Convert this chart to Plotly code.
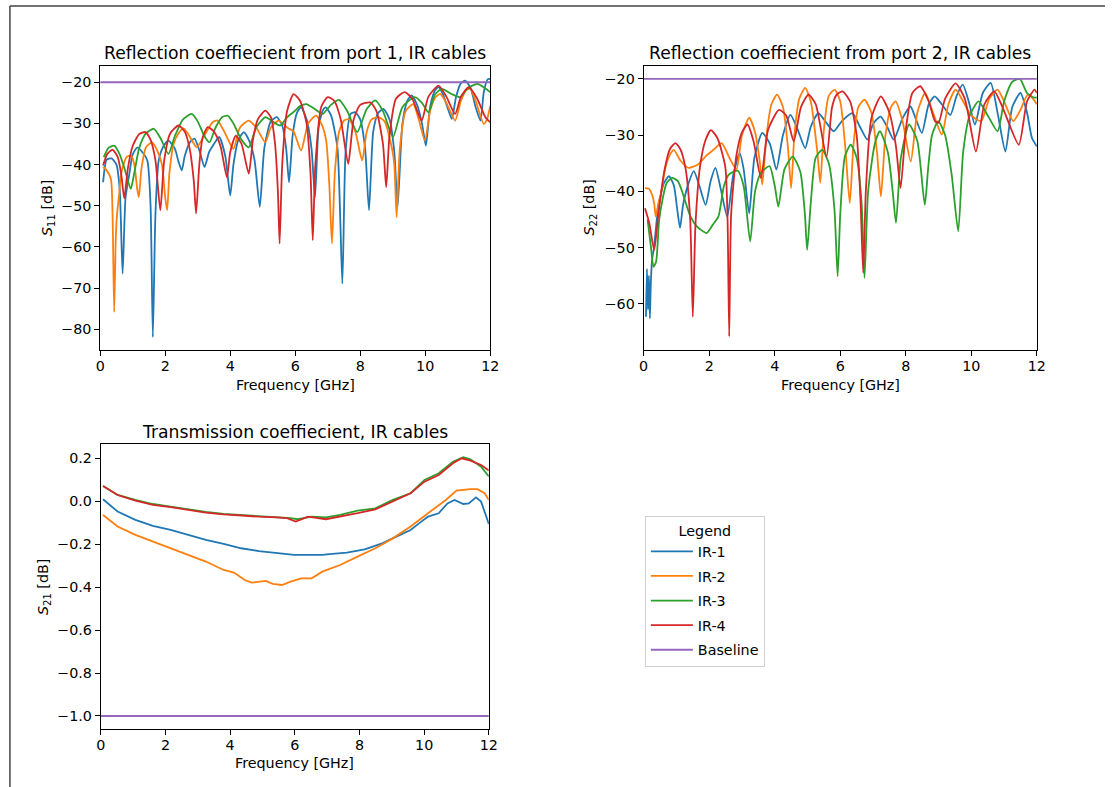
import plotly.graph_objects as go

# ---------------- S11 (reflection, port 1) ----------------
s11_ir1_f = [0.09, 0.2, 0.35, 0.5, 0.6, 0.69, 0.78, 0.89, 1.0, 1.14, 1.3, 1.45, 1.55, 1.62, 1.7, 1.8, 1.95, 2.1, 2.3, 2.4,
             2.51, 2.6, 2.76, 2.9, 3.05, 3.21, 3.35, 3.5, 3.66, 3.85, 4.0, 4.1, 4.25, 4.42, 4.6, 4.75, 4.91, 5.05, 5.25, 5.43,
             5.6, 5.72, 5.81, 5.92, 6.05, 6.18, 6.35, 6.5, 6.61, 6.72, 6.85, 6.94, 7.1, 7.3, 7.45, 7.55, 7.7, 7.85, 8.0, 8.15,
             8.27, 8.4, 8.55, 8.72, 8.9, 9.05, 9.15, 9.3, 9.45, 9.58, 9.75, 9.9, 10.02, 10.15, 10.3, 10.41, 10.55, 10.7, 10.82,
             10.95, 11.1, 11.23, 11.4, 11.55, 11.7, 11.8, 11.92, 12.0]
s11_ir1_db = [-44.3, -38.8, -38.5, -40, -46, -66.5, -48, -42.6, -37.5, -35.9, -37, -39, -50, -81.9, -52, -39, -35.5, -34.2, -36.2, -39,
              -41.4, -38, -34.6, -33.7, -36.5, -40.6, -37, -35, -33.3, -38, -47.5, -40, -34, -32.1, -34.5, -39, -50.3, -36, -29.5, -28.5,
              -30.5, -36, -44.3, -33, -27.5, -26.1, -29, -36, -47.9, -31, -26.8, -26.1, -28, -36, -68.9, -37, -27.7, -27.3, -29, -36,
              -51.1, -32, -27.5, -26.5, -29, -37, -50.3, -30, -24.5, -23.2, -25.5, -30, -35.4, -26, -22, -21.2, -23, -26.5, -28.9,
              -23.5, -20.2, -19.6, -21.5, -26, -29.3, -22.5, -19.3, -19.2]

s11_ir2_f = [0.09, 0.2, 0.33, 0.38, 0.43, 0.48, 0.52, 0.58, 0.65, 0.81, 0.95, 1.05, 1.14, 1.19, 1.27, 1.41, 1.6, 1.75, 1.9, 2.0,
             2.06, 2.13, 2.26, 2.4, 2.56, 2.7, 2.85, 2.97, 3.2, 3.46, 3.61, 3.85, 4.1, 4.3, 4.57, 4.8, 5.08, 5.25, 5.49, 5.75,
             5.95, 6.18, 6.4, 6.64, 6.8, 6.95, 7.05, 7.13, 7.22, 7.35, 7.5, 7.65, 7.85, 8.06, 8.2, 8.35, 8.56, 8.75, 8.97, 9.05,
             9.12, 9.22, 9.4, 9.63, 9.8, 9.99, 10.15, 10.3, 10.46, 10.65, 10.92, 11.1, 11.25, 11.39, 11.55, 11.8, 11.9, 12.0]
s11_ir2_db = [-40.6, -41.4, -43.5, -52, -75.8, -58, -51.9, -47.5, -42, -38.2, -37.8, -40, -46, -47.9, -41, -35.8, -34.6, -36.5, -40, -48,
              -51.1, -42, -35, -32.5, -31.2, -32.5, -34.5, -35.8, -33, -29.7, -29.3, -32.5, -36.2, -31, -29.3, -31, -34.6, -31, -29.3, -31,
              -32, -36.6, -30, -28.1, -30, -34, -45, -59.2, -42, -32, -29.3, -29, -32, -39, -32, -29, -28.5, -29.5, -35.8, -40,
              -52.8, -36, -27, -25.3, -29, -34.2, -27, -23.8, -22.8, -25, -29.3, -24.5, -22, -21.6, -24.5, -30.1, -29, -25.7]

s11_ir3_f = [0.11, 0.25, 0.43, 0.6, 0.75, 0.94, 1.05, 1.2, 1.4, 1.65, 1.85, 2.1, 2.3, 2.55, 2.81, 3.0, 3.2, 3.36, 3.55, 3.75,
             3.92, 4.1, 4.35, 4.57, 4.8, 5.08, 5.3, 5.54, 5.75, 5.94, 6.15, 6.34, 6.6, 6.84, 7.1, 7.35, 7.6, 7.91, 8.2, 8.46,
             8.7, 9.01, 9.3, 9.68, 9.9, 10.1, 10.3, 10.51, 10.8, 11.08, 11.3, 11.6, 11.85, 12.0]
s11_ir3_db = [-38.2, -36, -35.4, -37.5, -41, -45.9, -42, -36, -32.5, -31.3, -33.5, -37.4, -33, -29, -27.7, -29.5, -33, -34.6, -31, -28.5,
              -28.1, -30, -34, -35.8, -31, -28.5, -29.5, -30.5, -28.5, -27.3, -25.8, -25.3, -26.5, -27.7, -25.5, -24.3, -27, -32.1, -26.5, -24.4,
              -27, -33.3, -26, -23.6, -25, -27.3, -23, -21.6, -22.8, -23.6, -21.5, -20.4, -21.5, -22.4]

s11_ir4_f = [0.09, 0.22, 0.38, 0.54, 0.65, 0.74, 0.85, 1.0, 1.2, 1.39, 1.55, 1.7, 1.85, 1.97, 2.15, 2.41, 2.6, 2.75, 2.88, 2.95,
             3.05, 3.15, 3.31, 3.5, 3.7, 3.9, 4.0, 4.17, 4.35, 4.57, 4.7, 4.85, 5.08, 5.25, 5.38, 5.47, 5.52, 5.6, 5.75, 5.95,
             6.15, 6.35, 6.47, 6.54, 6.62, 6.8, 7.0, 7.2, 7.4, 7.63, 7.8, 8.0, 8.31, 8.5, 8.7, 8.8, 8.9, 9.1, 9.37, 9.6,
             9.89, 10.1, 10.41, 10.65, 10.92, 11.1, 11.34, 11.6, 11.85, 12.0]
s11_ir4_db = [-40.2, -37.4, -36.4, -38.2, -42.5, -48.2, -41, -35.5, -32.6, -32.1, -34, -39, -51.1, -39, -32.5, -30.5, -32, -36, -44, -51.9,
              -40, -33.5, -30.9, -32, -35.5, -43.1, -37, -33, -35, -42.2, -34, -29, -26.9, -28.5, -35, -47, -59.2, -40, -27, -22.9,
              -24.5, -30, -42, -58.4, -40, -26, -23.6, -24.5, -29, -39.8, -29, -25.5, -24.9, -27, -35, -45.5, -33, -24, -22.4, -24,
              -29.3, -23.5, -20.8, -23.5, -27.7, -23.5, -21.2, -24, -28.5, -29.7]

# ---------------- S22 (reflection, port 2) ----------------
s22_ir1_f = [0.07, 0.1, 0.13, 0.16, 0.19, 0.22, 0.26, 0.32, 0.4, 0.47, 0.62, 0.77, 0.92, 1.02, 1.11, 1.2, 1.34, 1.53, 1.7, 1.89,
             2.05, 2.19, 2.35, 2.55, 2.73, 2.93, 3.05, 3.22, 3.38, 3.62, 3.85, 4.05, 4.25, 4.48, 4.7, 4.93, 5.1, 5.33, 5.6, 5.8,
             6.05, 6.37, 6.6, 6.83, 7.0, 7.23, 7.43, 7.63, 7.9, 8.14, 8.3, 8.49, 8.7, 8.88, 9.1, 9.36, 9.55, 9.74, 9.92, 10.11,
             10.35, 10.59, 10.8, 11.04, 11.25, 11.5, 11.7, 11.85, 12.0]
s22_ir1_db = [-62.3, -53.8, -61, -55, -62.6, -56, -52, -49.8, -45, -42.1, -38.5, -37.3, -38.9, -43, -46.5, -42.5, -39.1, -36.4, -39, -42.4,
              -38, -35.8, -39.5, -44.5, -37.2, -33.2, -36, -43.9, -34, -29.6, -31.5, -36.1, -30, -26.4, -29, -32.3, -28.5, -26.1, -28, -29.3,
              -27.5, -26.1, -28.5, -30.8, -28, -26.7, -28.5, -30.8, -27, -24.9, -27, -29.6, -24.5, -23.1, -24.5, -26.4, -23, -21, -24, -28.1,
              -22.5, -20.7, -26, -32.9, -25, -22.5, -26, -30.5, -32]

s22_ir2_f = [0.04, 0.15, 0.25, 0.32, 0.37, 0.45, 0.52, 0.67, 0.8, 0.92, 1.12, 1.37, 1.66, 1.92, 2.15, 2.38, 2.63, 2.83, 3.0, 3.22,
             3.4, 3.55, 3.62, 3.75, 3.9, 4.07, 4.25, 4.4, 4.5, 4.6, 4.75, 4.93, 5.1, 5.3, 5.39, 5.5, 5.65, 5.83, 6.0, 6.15,
             6.29, 6.4, 6.55, 6.74, 6.95, 7.12, 7.24, 7.38, 7.55, 7.69, 7.9, 8.15, 8.35, 8.59, 8.8, 9.1, 9.3, 9.52, 9.75, 10.0,
             10.3, 10.55, 10.8, 11.0, 11.28, 11.5, 11.72, 11.88, 12.0]
s22_ir2_db = [-39.4, -39.5, -40.5, -42.1, -44.5, -42, -40.6, -35.6, -33.5, -32.6, -34.5, -35.8, -35.2, -33.6, -32.5, -31.4, -34.2, -36.1, -30, -26.9,
              -29.5, -35, -38.8, -30, -24.5, -22.8, -25, -32, -39.4, -30, -23.5, -21.6, -24, -33, -38.5, -29, -23, -21.9, -24, -32,
              -42.1, -32, -25, -23.7, -26, -33, -40.9, -30, -25, -24, -27.5, -34.7, -26, -22.5, -25.5, -29.9, -24.5, -21.9, -24, -26.5,
              -27.5, -23.5, -21.9, -24, -27.5, -25.5, -22.8, -23.5, -24.5]

s22_ir3_f = [0.12, 0.22, 0.3, 0.38, 0.47, 0.57, 0.7, 0.87, 1.05, 1.2, 1.43, 1.62, 1.92, 2.1, 2.28, 2.45, 2.6, 2.87, 3.05, 3.25,
             3.4, 3.58, 3.84, 4.0, 4.11, 4.3, 4.55, 4.78, 4.92, 4.99, 5.1, 5.25, 5.45, 5.65, 5.82, 5.92, 6.0, 6.14, 6.32, 6.5,
             6.65, 6.74, 6.85, 7.06, 7.21, 7.45, 7.6, 7.7, 7.85, 8.1, 8.35, 8.58, 8.68, 8.8, 8.99, 9.2, 9.4, 9.6, 9.75, 9.95,
             10.22, 10.5, 10.8, 11.0, 11.25, 11.48, 11.7, 11.9, 12.0]
s22_ir3_db = [-45, -49.8, -53.4, -52.5, -45.2, -41.6, -38.5, -37.6, -38.2, -40.5, -44.5, -46.2, -47.4, -46, -44.5, -39, -37, -36.3, -39, -48.9,
              -40, -36.7, -35.5, -39, -42.7, -36, -33.8, -36.5, -44, -50.4, -42, -34, -32.6, -35, -43, -55.1, -44, -33.8, -31.7, -34,
              -42, -55.4, -40, -31.4, -29.3, -33, -40, -45.6, -34, -28.1, -31, -42.4, -36, -30, -27.5, -30, -37, -47.1, -33, -26.5,
              -24, -26.5, -29.3, -24, -20.5, -20, -22.5, -23.3, -23.3]

s22_ir4_f = [0.04, 0.17, 0.32, 0.45, 0.62, 0.8, 0.97, 1.12, 1.28, 1.42, 1.5, 1.58, 1.72, 1.88, 2.05, 2.25, 2.49, 2.56, 2.61, 2.67,
             2.83, 3.0, 3.17, 3.35, 3.58, 3.8, 4.13, 4.35, 4.58, 4.8, 5.03, 5.25, 5.58, 5.75, 5.89, 6.07, 6.3, 6.5, 6.62, 6.7,
             6.78, 6.95, 7.24, 7.5, 7.7, 7.84, 8.0, 8.2, 8.44, 8.7, 8.89, 9.0, 9.2, 9.52, 9.8, 10.14, 10.4, 10.7, 10.95, 11.45,
             11.7, 11.93, 12.0]
s22_ir4_db = [-43, -45.6, -50.4, -44, -36.7, -32.5, -31.4, -32.5, -36, -45, -62.3, -46, -35.6, -31, -29.1, -30.5, -35.6, -45, -65.8, -44,
              -33.6, -29.5, -28.1, -31, -37.6, -29, -25.5, -26.5, -31.1, -25, -22.8, -24.5, -33.8, -25, -22.8, -22.2, -24, -30, -42, -54.5,
              -40, -27, -23.1, -26, -32, -39.4, -29, -22.5, -21.3, -24, -27.5, -27.8, -23.5, -20.8, -23.5, -32.9, -24.5, -22.2, -25, -31.7,
              -24, -21.9, -22.5]

# ---------------- S21 (transmission) ----------------
s21_ir1_f = [0.07, 0.52, 1.07, 1.61, 2.16, 2.71, 3.25, 3.8, 4.34, 4.89, 5.43, 5.98, 6.52, 6.85, 7.07, 7.61, 8.16, 8.7, 9.14, 9.58,
             9.91, 10.12, 10.45, 10.72, 10.94, 11.21, 11.38, 11.6, 11.76, 11.92, 12.0]
s21_ir1_db = [0.009, -0.048, -0.087, -0.115, -0.134, -0.157, -0.18, -0.199, -0.219, -0.232, -0.242, -0.25, -0.25, -0.25, -0.246, -0.239,
              -0.224, -0.196, -0.165, -0.134, -0.095, -0.072, -0.056, -0.01, 0.006, -0.013, -0.01, 0.018, -0.002, -0.072, -0.106]

s21_ir2_f = [0.07, 0.52, 1.07, 1.61, 2.16, 2.71, 3.25, 3.8, 4.12, 4.45, 4.67, 5.1, 5.32, 5.6, 5.87, 6.2, 6.52, 6.85, 7.4, 7.94,
             8.49, 9.03, 9.58, 10.12, 10.67, 11.0, 11.43, 11.65, 11.87, 12.0]
s21_ir2_db = [-0.064, -0.118, -0.157, -0.188, -0.219, -0.25, -0.281, -0.32, -0.332, -0.367, -0.379, -0.371, -0.385, -0.39, -0.374, -0.359,
              -0.359, -0.328, -0.297, -0.258, -0.219, -0.173, -0.118, -0.056, 0.006, 0.049, 0.056, 0.056, 0.037, 0.006]

s21_ir3_f = [0.07, 0.52, 1.07, 1.61, 2.16, 2.71, 3.25, 3.8, 4.34, 4.89, 5.43, 5.87, 6.09, 6.52, 6.96, 7.4, 7.94, 8.49, 9.03, 9.58,
             10.01, 10.45, 10.89, 11.21, 11.43, 11.76, 12.0]
s21_ir3_db = [0.071, 0.029, 0.006, -0.013, -0.025, -0.038, -0.05, -0.059, -0.064, -0.069, -0.072, -0.079, -0.084, -0.072, -0.075, -0.064,
              -0.044, -0.033, 0.006, 0.037, 0.099, 0.13, 0.184, 0.205, 0.195, 0.161, 0.115]

s21_ir4_f = [0.07, 0.52, 1.07, 1.61, 2.16, 2.71, 3.25, 3.8, 4.34, 4.89, 5.43, 5.76, 6.03, 6.41, 6.96, 7.4, 7.94, 8.49, 9.03, 9.58,
             10.01, 10.45, 10.89, 11.16, 11.43, 11.76, 12.0]
s21_ir4_db = [0.071, 0.029, 0.003, -0.017, -0.028, -0.041, -0.053, -0.061, -0.067, -0.072, -0.075, -0.079, -0.095, -0.072, -0.084, -0.072,
              -0.056, -0.038, -0.002, 0.037, 0.091, 0.122, 0.177, 0.2, 0.189, 0.169, 0.143]

# Baseline limits
baseline_f = [0, 12]
baseline_s11 = [-20, -20]
baseline_s22 = [-20, -20]
baseline_s21 = [-1.0, -1.0]

names = ["IR-1", "IR-2", "IR-3", "IR-4", "Baseline"]
colors = ["#1f77b4", "#ff7f0e", "#2ca02c", "#d62728", "#9467bd"]

W, H = 1114, 787
FONT = "DejaVu Sans"
TICK_SIZE = 14.3
TITLE_SIZE = 17.2


def px_x(v):
    return v / W


def px_y(v):
    return 1 - v / H


panels = [
    ("x", "y", [(s11_ir1_f, s11_ir1_db), (s11_ir2_f, s11_ir2_db), (s11_ir3_f, s11_ir3_db),
                (s11_ir4_f, s11_ir4_db), (baseline_f, baseline_s11)], True),
    ("x2", "y2", [(s22_ir1_f, s22_ir1_db), (s22_ir2_f, s22_ir2_db), (s22_ir3_f, s22_ir3_db),
                  (s22_ir4_f, s22_ir4_db), (baseline_f, baseline_s22)], True),
    ("x3", "y3", [(s21_ir1_f, s21_ir1_db), (s21_ir2_f, s21_ir2_db), (s21_ir3_f, s21_ir3_db),
                  (s21_ir4_f, s21_ir4_db), (baseline_f, baseline_s21)], False),
]

fig = go.Figure()
for p, (xa, ya, series, curvy) in enumerate(panels):
    for i, (f, v) in enumerate(series):
        line = dict(color=colors[i], width=1.8)
        if curvy:
            line.update(shape="spline", smoothing=0.6)
        fig.add_trace(go.Scatter(
            x=f, y=v, mode="lines", name=names[i], legendgroup=names[i],
            showlegend=(p == 0), xaxis=xa, yaxis=ya, line=line,
        ))

axis_common = dict(
    showline=True, linecolor="black", linewidth=1, mirror=True,
    ticks="outside", ticklen=5, tickwidth=1, tickcolor="black",
    showgrid=False, zeroline=False,
    tickfont=dict(family=FONT, size=TICK_SIZE, color="black"),
)
x_common = dict(range=[0, 12], dtick=2, ticklabelstandoff=-2, **axis_common)

dom_x1 = [px_x(96.4), px_x(491.4)]
dom_x2 = [px_x(646.8), px_x(1045)]
dom_y_top = [px_y(350), px_y(66)]
dom_y_bot = [px_y(729.3), px_y(444.3)]

fig.update_layout(
    width=W, height=H,
    margin=dict(l=0, r=0, t=0, b=0),
    paper_bgcolor="white", plot_bgcolor="white",
    font=dict(family=FONT, size=TICK_SIZE, color="black"),
    xaxis=dict(domain=dom_x1, anchor="y", **x_common),
    yaxis=dict(domain=dom_y_top, anchor="x", range=[-85.05, -16.05], dtick=10, **axis_common),
    xaxis2=dict(domain=dom_x2, anchor="y2", **x_common),
    yaxis2=dict(domain=dom_y_top, anchor="x2", range=[-68.2, -17.7], dtick=10, **axis_common),
    xaxis3=dict(domain=[px_x(97), px_x(490)], anchor="y3", **x_common),
    yaxis3=dict(domain=dom_y_bot, anchor="x3", range=[-1.062, 0.265], dtick=0.2, tickformat=".1f", **axis_common),
    legend=dict(
        x=px_x(648), y=px_y(516), xanchor="left", yanchor="top",
        bgcolor="rgba(255,255,255,0.8)", bordercolor="#d0d0d0", borderwidth=1,
        font=dict(family=FONT, size=TICK_SIZE, color="black"),
        title=dict(text="Legend", side="top center", font=dict(family=FONT, size=TICK_SIZE, color="black")),
        tracegroupgap=3, itemwidth=42,
    ),
    showlegend=True,
)

# Panel titles and axis labels
ann = []
titles = [
    ("Reflection coeffiecient from port 1, IR cables", (96.4 + 491.4) / 2, 53),
    ("Reflection coeffiecient from port 2, IR cables", (646.8 + 1045) / 2, 53),
    ("Transmission coeffiecient, IR cables", (97 + 490) / 2, 432),
]
for text, cx, cy in titles:
    ann.append(dict(text=text, x=px_x(cx), y=px_y(cy), xref="paper", yref="paper",
                    xanchor="center", yanchor="middle", showarrow=False,
                    font=dict(family=FONT, size=TITLE_SIZE, color="black")))

xlabels = [((96.4 + 491.4) / 2, 385), ((646.8 + 1045) / 2, 385), ((97 + 490) / 2, 763)]
for cx, cy in xlabels:
    ann.append(dict(text="Frequency [GHz]", x=px_x(cx), y=px_y(cy), xref="paper", yref="paper",
                    xanchor="center", yanchor="middle", showarrow=False,
                    font=dict(family=FONT, size=TICK_SIZE, color="black")))

ylabels = [
    ("<i>S</i><sub>11</sub> [dB]", 43.5, 208),
    ("<i>S</i><sub>22</sub> [dB]", 592, 208),
    ("<i>S</i><sub>21</sub> [dB]", 39.5, 587),
]
for text, cx, cy in ylabels:
    ann.append(dict(text=text, x=px_x(cx), y=px_y(cy), xref="paper", yref="paper",
                    xanchor="center", yanchor="middle", showarrow=False, textangle=-90,
                    font=dict(family=FONT, size=TICK_SIZE, color="black")))
fig.update_layout(annotations=ann)

# Outer frame lines along the top and left edges
fig.add_shape(type="line", xref="paper", yref="paper", x0=px_x(5), x1=1, y0=px_y(6), y1=px_y(6),
              line=dict(color="#444444", width=1.5))
fig.add_shape(type="line", xref="paper", yref="paper", x0=px_x(5), x1=px_x(5), y0=0, y1=px_y(6),
              line=dict(color="#444444", width=1.5))

fig.write_html("out.html")
